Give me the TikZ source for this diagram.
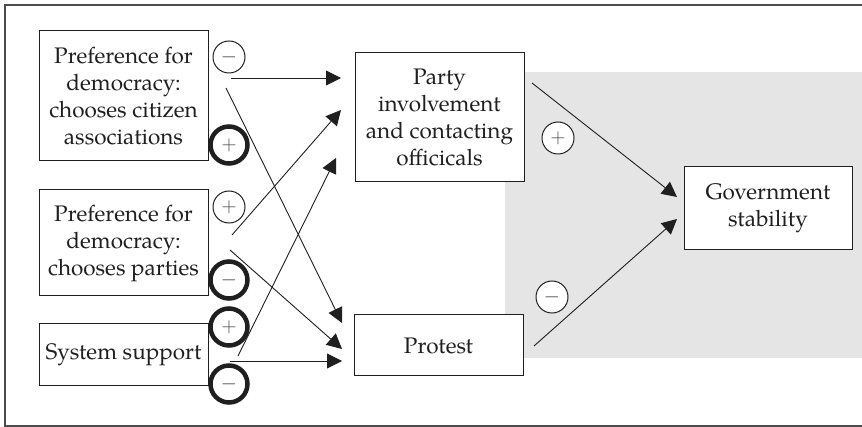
\documentclass[tikz,border=0pt]{standalone}
\usepackage{fontspec}
\setmainfont{TeX Gyre Pagella}
\usetikzlibrary{arrows.meta,calc}
\definecolor{framec}{gray}{0.3}
\definecolor{shadegray}{gray}{0.9}
\definecolor{inkc}{gray}{0.12}
\tikzset{
  box/.style={draw=inkc,fill=white,line width=1pt,align=center,inner sep=0pt,
    font=\fontsize{22.5}{27}\selectfont,text=inkc},
  sgn/.style={circle,draw=inkc,fill=white,line width=1pt,minimum size=32pt,inner sep=0pt,
    font=\fontsize{20}{20}\selectfont,text=inkc!80},
  sgnbold/.style={sgn,line width=4.5pt,minimum size=37pt},
  arr/.style={draw=inkc,line width=0.9pt,-{Triangle[length=15pt,width=15pt]}},
}
\begin{document}
\begin{tikzpicture}[x=1pt,y=-1pt]
\useasboundingbox (0,0) rectangle (862,427);
\fill[shadegray] (505,72) rectangle (862,358);
\draw[framec,line width=1.5pt] (862,5) -- (5,5) -- (5,426) -- (862,426);

\node[box,minimum width=169pt,minimum height=130pt] (b1) at (123.5,96)
  {Preference for\\democracy:\\chooses citizen\\associations};
\node[box,minimum width=169pt,minimum height=106pt] (b2) at (123.5,243)
  {Preference for\\democracy:\\chooses parties};
\node[box,minimum width=169pt,minimum height=62pt] (b3) at (123.5,355)
  {System support};
\node[box,minimum width=169pt,minimum height=129pt] (pa) at (439.5,117.5)
  {Party\\involvement\\and contacting\\officicals};
\node[box,minimum width=169pt,minimum height=61pt] (pr) at (438.5,345.5)
  {Protest};
\node[box,minimum width=168pt,minimum height=83pt] (gv) at (768,208.5)
  {Government\\stability};

\node[sgn] (c1) at (229,57) {$-$};
\node[sgnbold] (c2) at (229,145) {$+$};
\node[sgn] (c3) at (229,207) {$+$};
\node[sgnbold] (c4) at (229,280) {$-$};
\node[sgnbold] (c5) at (229,327) {$+$};
\node[sgnbold] (c6) at (229,384) {$-$};
\node[sgn] (c7) at (558,138) {$+$};
\node[sgn] (c8) at (552,297) {$-$};

% start points
\coordinate (s1) at (231,78);
\coordinate (s2) at (226,88);
\coordinate (s3) at (232,235);
\coordinate (s4) at (230,250);
\coordinate (s5) at (238,356);
\coordinate (s6) at (230,361);
\coordinate (s7) at (532,83);
\coordinate (s8) at (534,346);
% tips
\coordinate (t1) at (341,78);
\coordinate (t2) at (342,323);
\coordinate (t3) at (341,110);
\coordinate (t4) at (342,349);
\coordinate (t5) at (336,158);
\coordinate (t6) at (342,361);
\coordinate (t7) at (677,197);
\coordinate (t8) at (677,219);

\draw[arr] (s1) -- (t1);
\draw[arr] (s2) -- (t2);
\draw[arr] (s3) -- (t3);
\draw[arr] (s4) -- (t4);
\draw[arr] (s5) -- (t5);
\draw[arr] (s6) -- (t6);
\draw[arr] (s7) -- (t7);
\draw[arr] (s8) -- (t8);
\end{tikzpicture}
\end{document}
